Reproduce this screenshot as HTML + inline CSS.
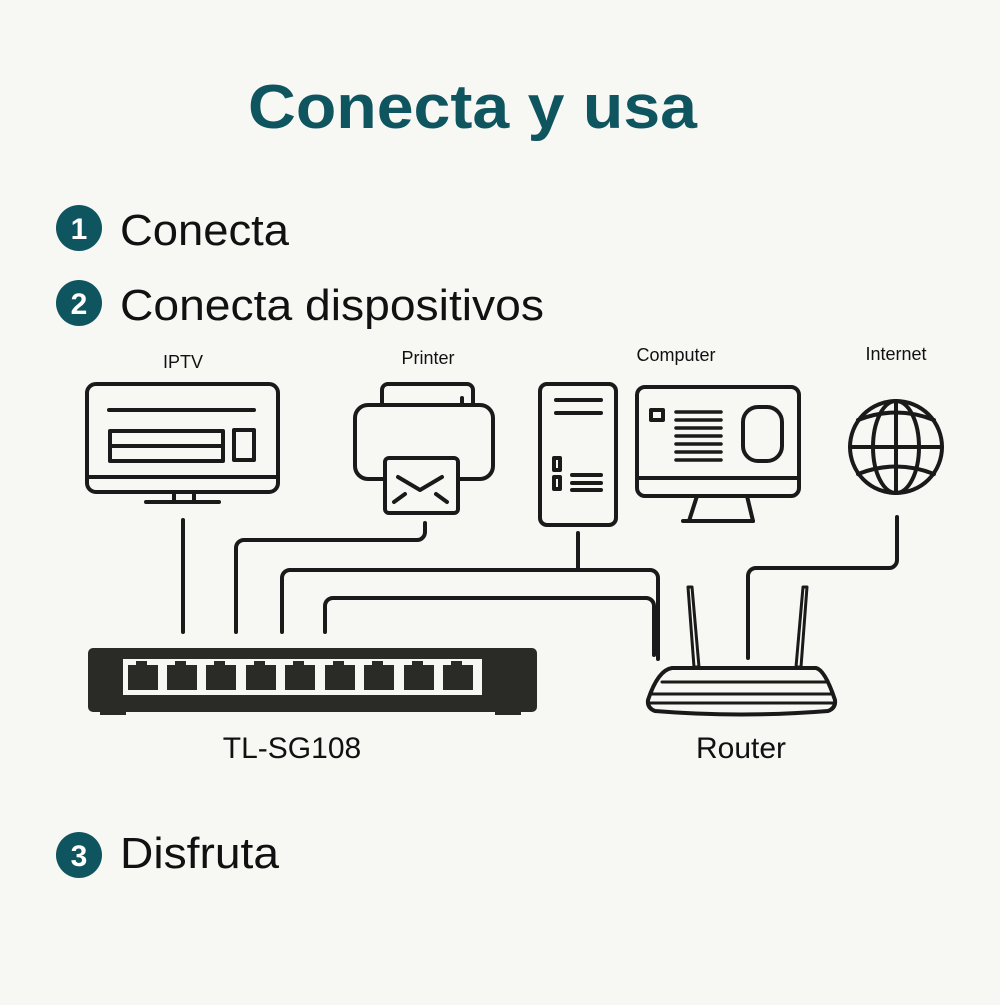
<!DOCTYPE html>
<html><head><meta charset="utf-8"><style>html,body{margin:0;padding:0;background:#f7f7f4}</style></head>
<body>
<svg width="1000" height="1000" viewBox="0 0 1000 1000" xmlns="http://www.w3.org/2000/svg" font-family="Liberation Sans, sans-serif">
<rect width="1000" height="1000" fill="#f7f7f4"/>
<text x="248" y="128" font-size="62" font-weight="bold" fill="#0f5560" textLength="449" lengthAdjust="spacingAndGlyphs">Conecta y usa</text>
<g fill="#0f5560"><circle cx="79" cy="228" r="23"/><circle cx="79" cy="303" r="23"/><circle cx="79" cy="855" r="23"/></g>
<g fill="#fff" font-size="30" font-weight="bold" text-anchor="middle"><text x="79" y="239">1</text><text x="79" y="314">2</text><text x="79" y="866">3</text></g>
<g fill="#111" font-size="44"><text x="120" y="245" textLength="169" lengthAdjust="spacingAndGlyphs">Conecta</text><text x="120" y="320" textLength="424" lengthAdjust="spacingAndGlyphs">Conecta dispositivos</text><text x="120" y="868" textLength="159" lengthAdjust="spacingAndGlyphs">Disfruta</text></g>
<g fill="#111" font-size="18" text-anchor="middle"><text x="183" y="368">IPTV</text><text x="428" y="364">Printer</text><text x="676" y="361">Computer</text><text x="896" y="360">Internet</text></g>
<g fill="#111" font-size="30" text-anchor="middle"><text x="292" y="758">TL-SG108</text><text x="741" y="758">Router</text></g>
<g fill="none" stroke="#1a1a1a" stroke-width="4" stroke-linecap="round" stroke-linejoin="round">
<!-- TV -->
<rect x="87" y="384" width="191" height="108" rx="9"/><line x1="88" y1="477" x2="277" y2="477"/>
<line x1="109" y1="410" x2="254" y2="410"/><rect x="110" y="431" width="113" height="30"/><line x1="110" y1="446" x2="223" y2="446"/><rect x="234" y="430" width="20" height="30"/>
<rect x="174" y="492" width="20" height="10"/><line x1="146" y1="502" x2="219" y2="502"/>
<!-- printer -->
<path d="M382 405 V390 a6 6 0 0 1 6 -6 H467 a6 6 0 0 1 6 6 V405"/><line x1="462" y1="398" x2="462" y2="405"/>
<path d="M385 479 H368 a13 13 0 0 1 -13 -13 V418 a13 13 0 0 1 13 -13 H480 a13 13 0 0 1 13 13 V466 a13 13 0 0 1 -13 13 H458"/>
<rect x="385" y="458" width="73" height="55" rx="4"/><path d="M398 477 L420 490 L442 477"/><path d="M394 502 L405 494 M447 502 L436 494"/>
<!-- tower -->
<rect x="540" y="384" width="76" height="141" rx="7"/><line x1="556" y1="400" x2="601" y2="400"/><line x1="556" y1="413" x2="601" y2="413"/>
<rect x="554" y="458" width="6" height="12"/><rect x="554" y="477" width="6" height="12"/><line x1="572" y1="475" x2="601" y2="475"/><line x1="572" y1="483" x2="601" y2="483"/><line x1="572" y1="490" x2="601" y2="490"/>
<!-- monitor -->
<rect x="637" y="387" width="162" height="109" rx="8"/><line x1="638" y1="478" x2="798" y2="478"/>
<rect x="651" y="410" width="12" height="10"/>
<g stroke-width="3.5"><line x1="676" y1="412" x2="721" y2="412"/><line x1="676" y1="420" x2="721" y2="420"/><line x1="676" y1="428" x2="721" y2="428"/><line x1="676" y1="436" x2="721" y2="436"/><line x1="676" y1="444" x2="721" y2="444"/><line x1="676" y1="452" x2="721" y2="452"/><line x1="676" y1="460" x2="721" y2="460"/></g>
<rect x="743" y="407" width="39" height="54" rx="15"/>
<path d="M697 496 L689 521 M747 496 L753 521"/><line x1="683" y1="521" x2="753" y2="521"/>
<!-- globe -->
<circle cx="896" cy="447" r="46"/><ellipse cx="896" cy="447" rx="23" ry="46"/><line x1="896" y1="401" x2="896" y2="493"/><line x1="850" y1="447" x2="942" y2="447"/>
<path d="M858 420 Q896 405 934 420 M858 474 Q896 459 934 474"/>
<!-- connectors -->
<line x1="183" y1="520" x2="183" y2="632"/>
<path d="M425 523 V532 a8 8 0 0 1 -8 8 H244 a8 8 0 0 0 -8 8 V632"/>
<path d="M282 632 V578 a8 8 0 0 1 8 -8 H650 a8 8 0 0 1 8 8 V659"/>
<line x1="578" y1="533" x2="578" y2="570"/>
<path d="M325 632 V606 a8 8 0 0 1 8 -8 H646 a8 8 0 0 1 8 8 V655"/>
<path d="M897 517 V560 a8 8 0 0 1 -8 8 H756 a8 8 0 0 0 -8 8 V658"/>
<!-- router -->
<path d="M688 587 L694 667 L699 667 L692 587 Z M807 587 L801 667 L796 667 L803 587 Z" stroke-width="3"/>
<path d="M672 668 H816 Q825 670 835 700 Q836 708 828 711 Q741 718 655 711 Q647 708 648 700 Q658 670 672 668 Z"/>
<line x1="662" y1="682" x2="826" y2="682" stroke-width="3"/><line x1="652" y1="694" x2="832" y2="694" stroke-width="3"/><line x1="650" y1="703" x2="834" y2="703" stroke-width="3"/>
</g>
<!-- switch -->
<rect x="88" y="648" width="449" height="64" rx="5" fill="#2a2a27"/>
<rect x="100" y="708" width="26" height="7" fill="#2a2a27"/><rect x="495" y="708" width="26" height="7" fill="#2a2a27"/>
<rect x="123" y="659" width="359" height="36" fill="#f7f7f4"/>
<g fill="#2a2a27">
<path id="p" d="M128 665 H136 V661 H147 V665 H158 V690 H128 Z"/>
<use href="#p" x="39"/><use href="#p" x="78"/><use href="#p" x="118"/><use href="#p" x="157"/><use href="#p" x="197"/><use href="#p" x="236"/><use href="#p" x="276"/><use href="#p" x="315"/>
</g>
</svg>
</body></html>
